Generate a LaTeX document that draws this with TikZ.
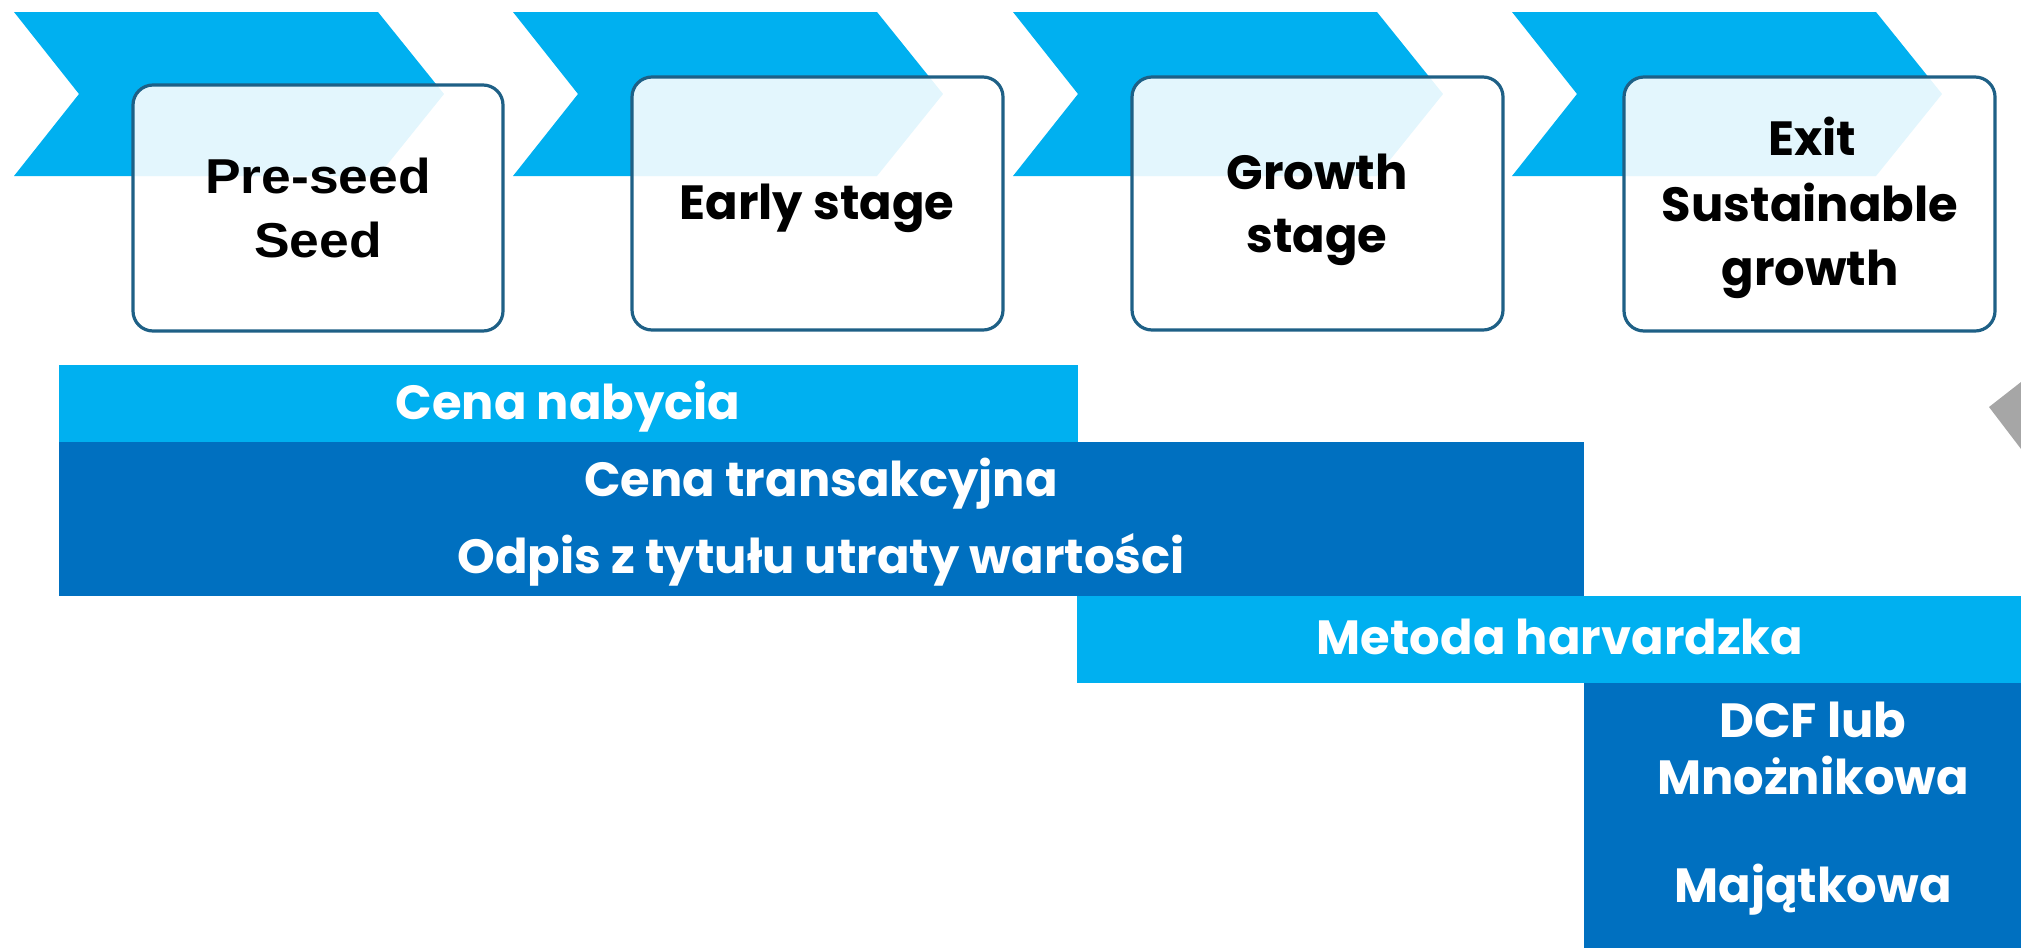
\documentclass[tikz,border=0pt]{standalone}
\usepackage{fontspec}
\setmainfont{Poppins}
\newfontfamily\interlike{Liberation Sans}[FakeStretch=1.09]
\definecolor{lblue}{RGB}{0,176,240}
\definecolor{dblue}{RGB}{0,112,192}
\definecolor{boxline}{RGB}{30,96,134}
\definecolor{greyarrow}{RGB}{166,166,166}
\tikzset{
  chev/.style={fill=lblue},
  stagebox/.style={draw=boxline, line width=1.6pt, rounded corners=10pt, fill=white, fill opacity=0.89},
  boxtxt/.style={anchor=base, inner sep=0pt, font=\bfseries\fontsize{24}{28}\selectfont, text=black},
  boxtxtA/.style={anchor=base, inner sep=0pt, font=\interlike\bfseries\fontsize{24.5}{28}\selectfont, text=black},
  bartxt/.style={anchor=base, inner sep=0pt, font=\bfseries\fontsize{24}{28}\selectfont, text=white},
}
\begin{document}
\begin{tikzpicture}[x=0.5pt, y=-0.5pt]
\useasboundingbox (0,0) rectangle (2021,948);
% chevrons
\foreach \xo in {14,513,1013,1512} {
  \fill[chev] (\xo,12) -- ++(364,0) -- ++(66,82) -- ++(-66,82) -- (\xo,176) -- ++(65,-82) -- cycle;
}
% stage boxes
\draw[stagebox] (133,85) rectangle (503,331);
\draw[stagebox] (632,77) rectangle (1003,330);
\draw[stagebox] (1132,77) rectangle (1503,330);
\draw[stagebox] (1624,77) rectangle (1995,331);
\node[boxtxtA] (t1a) at (318,193) {Pre-seed};
\node[boxtxtA] (t1b) at (318,257) {Seed};
\node[boxtxt] (t2a) at (817,219) {Early stage};
\node[boxtxt] (t3a) at (1317,189) {Growth};
\node[boxtxt] (t3b) at (1317,252) {stage};
\node[boxtxt] (t4a) at (1812,155) {Exit};
\node[boxtxt] (t4b) at (1810,221) {Sustainable};
\node[boxtxt] (t4c) at (1810,285) {growth};
% bars
\fill[lblue] (59,365) rectangle (1078,442);
\fill[dblue] (59,442) rectangle (1584,596);
\fill[lblue] (1077,596) rectangle (2021,683);
\fill[dblue] (1584,683) rectangle (2021,948);
\node[bartxt] (l1) at (568,419) {Cena nabycia};
\node[bartxt] (l2) at (821,496) {Cena transakcyjna};
\node[bartxt] (l3) at (821,573) {Odpis z tytułu utraty wartości};
\node[bartxt] (l4) at (1560,654) {Metoda harvardzka};
\node[bartxt] (l5) at (1813,737) {DCF lub};
\node[bartxt] (l6) at (1813,794) {Mnożnikowa};
\node[bartxt] (l7) at (1813,902) {Majątkowa};
% grey arrow tip at right edge
\fill[greyarrow] (1989,407) -- (2021,382) -- (2021,449) -- cycle;
\end{tikzpicture}
\end{document}
